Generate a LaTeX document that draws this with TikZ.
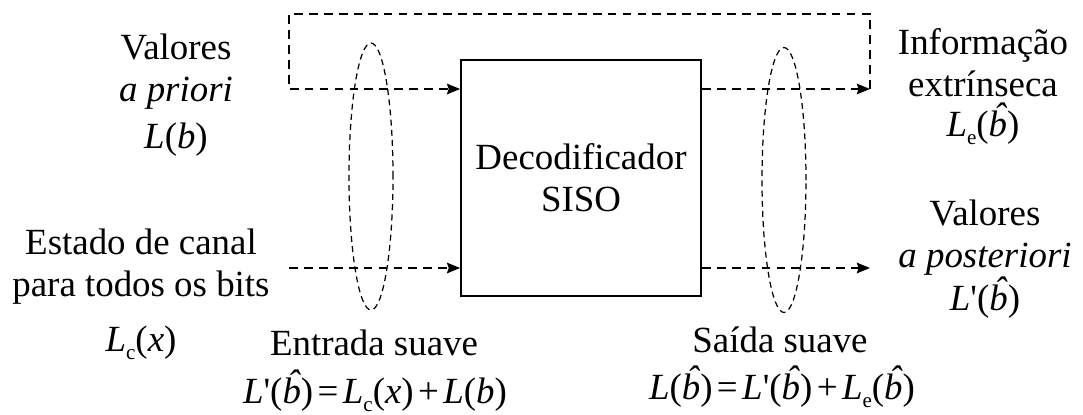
\documentclass[tikz,border=0pt]{standalone}
\usepackage{fontspec}
\setmainfont{Liberation Serif}
\usetikzlibrary{arrows.meta}

\newcommand{\bchap}{\ooalign{\textit{b}\cr\hidewidth\kern0.12em\raisebox{0.22em}{\textit{\char"02C6}}\hidewidth\cr}}
\newcommand{\oper}[1]{\hspace{0.12em}#1\hspace{0.12em}}
\newcommand{\indice}[1]{\raisebox{-0.22em}{\fontsize{12}{12}\selectfont #1}}

\begin{document}
\begin{tikzpicture}[x=0.02cm, y=0.02cm,
    every node/.style={font=\fontsize{21}{24}\selectfont},
    txt/.style={align=center},
    flow/.style={line width=1.1pt, dash pattern=on 5pt off 3.5pt},
    grupo/.style={line width=0.7pt, dash pattern=on 3.4pt off 2.4pt},
    >={Stealth[length=7.5pt, width=6pt, inset=1pt]}]
    \useasboundingbox (0,0) rectangle (1083,414);

    % Decodificador
    \node[draw, line width=1pt, minimum width=4.8cm, minimum height=4.72cm, txt] (dec) at (581,236) {Decodificador\\SISO};

    % Pontos das setas
    \coordinate (inA) at (289,325);
    \coordinate (inB) at (289,146);
    \coordinate (outA) at (870,325);
    \coordinate (outB) at (870,146);
    \coordinate (loopR) at (870,400);
    \coordinate (loopL) at (289,400);

    % Realimentação e setas
    \draw[flow, ->] (outA) -- (loopR) -- (loopL) -- (inA) -- (dec.west |- inA);
    \draw[flow, ->] (inB) -- (dec.west |- inB);
    \draw[flow, ->] (dec.east |- outA) -- (outA);
    \draw[flow, ->] (dec.east |- outB) -- (outB);

    % Elipses
    \draw[grupo] (371,237.5) ellipse (0.44cm and 2.67cm);
    \draw[grupo] (784,234) ellipse (0.44cm and 2.65cm);

    % Entradas
    \node[txt] (apriori) at (176,342.5) {Valores\\\textit{a priori}};
    \node (Lb) at (176,274) {\textit{L}(\textit{b})};
    \node[txt] (canal) at (141,147) {Estado de canal\\para todos os bits};
    \node (Lc) at (141,71) {\textit{L}\indice{c}(\textit{x})};
    \node (entrada) at (374,71) {Entrada suave};
    \node (eqin) at (375,19) {\textit{L}\textquotesingle(\bchap)\oper{=}\textit{L}\indice{c}(\textit{x})\oper{+}\textit{L}(\textit{b})};

    % Saídas
    \node[txt] (extr) at (983,351) {Informação\\extrínseca};
    \node (Le) at (983,286) {\textit{L}\indice{e}(\bchap)};
    \node[txt] (poster) at (985,176) {Valores\\\textit{a posteriori}};
    \node (Lpost) at (985,112) {\textit{L}\textquotesingle(\bchap)};
    \node (saida) at (780,74) {Saída suave};
    \node (eqout) at (782,23) {\textit{L}(\bchap)\oper{=}\textit{L}\textquotesingle(\bchap)\oper{+}\textit{L}\indice{e}(\bchap)};
\end{tikzpicture}
\end{document}
